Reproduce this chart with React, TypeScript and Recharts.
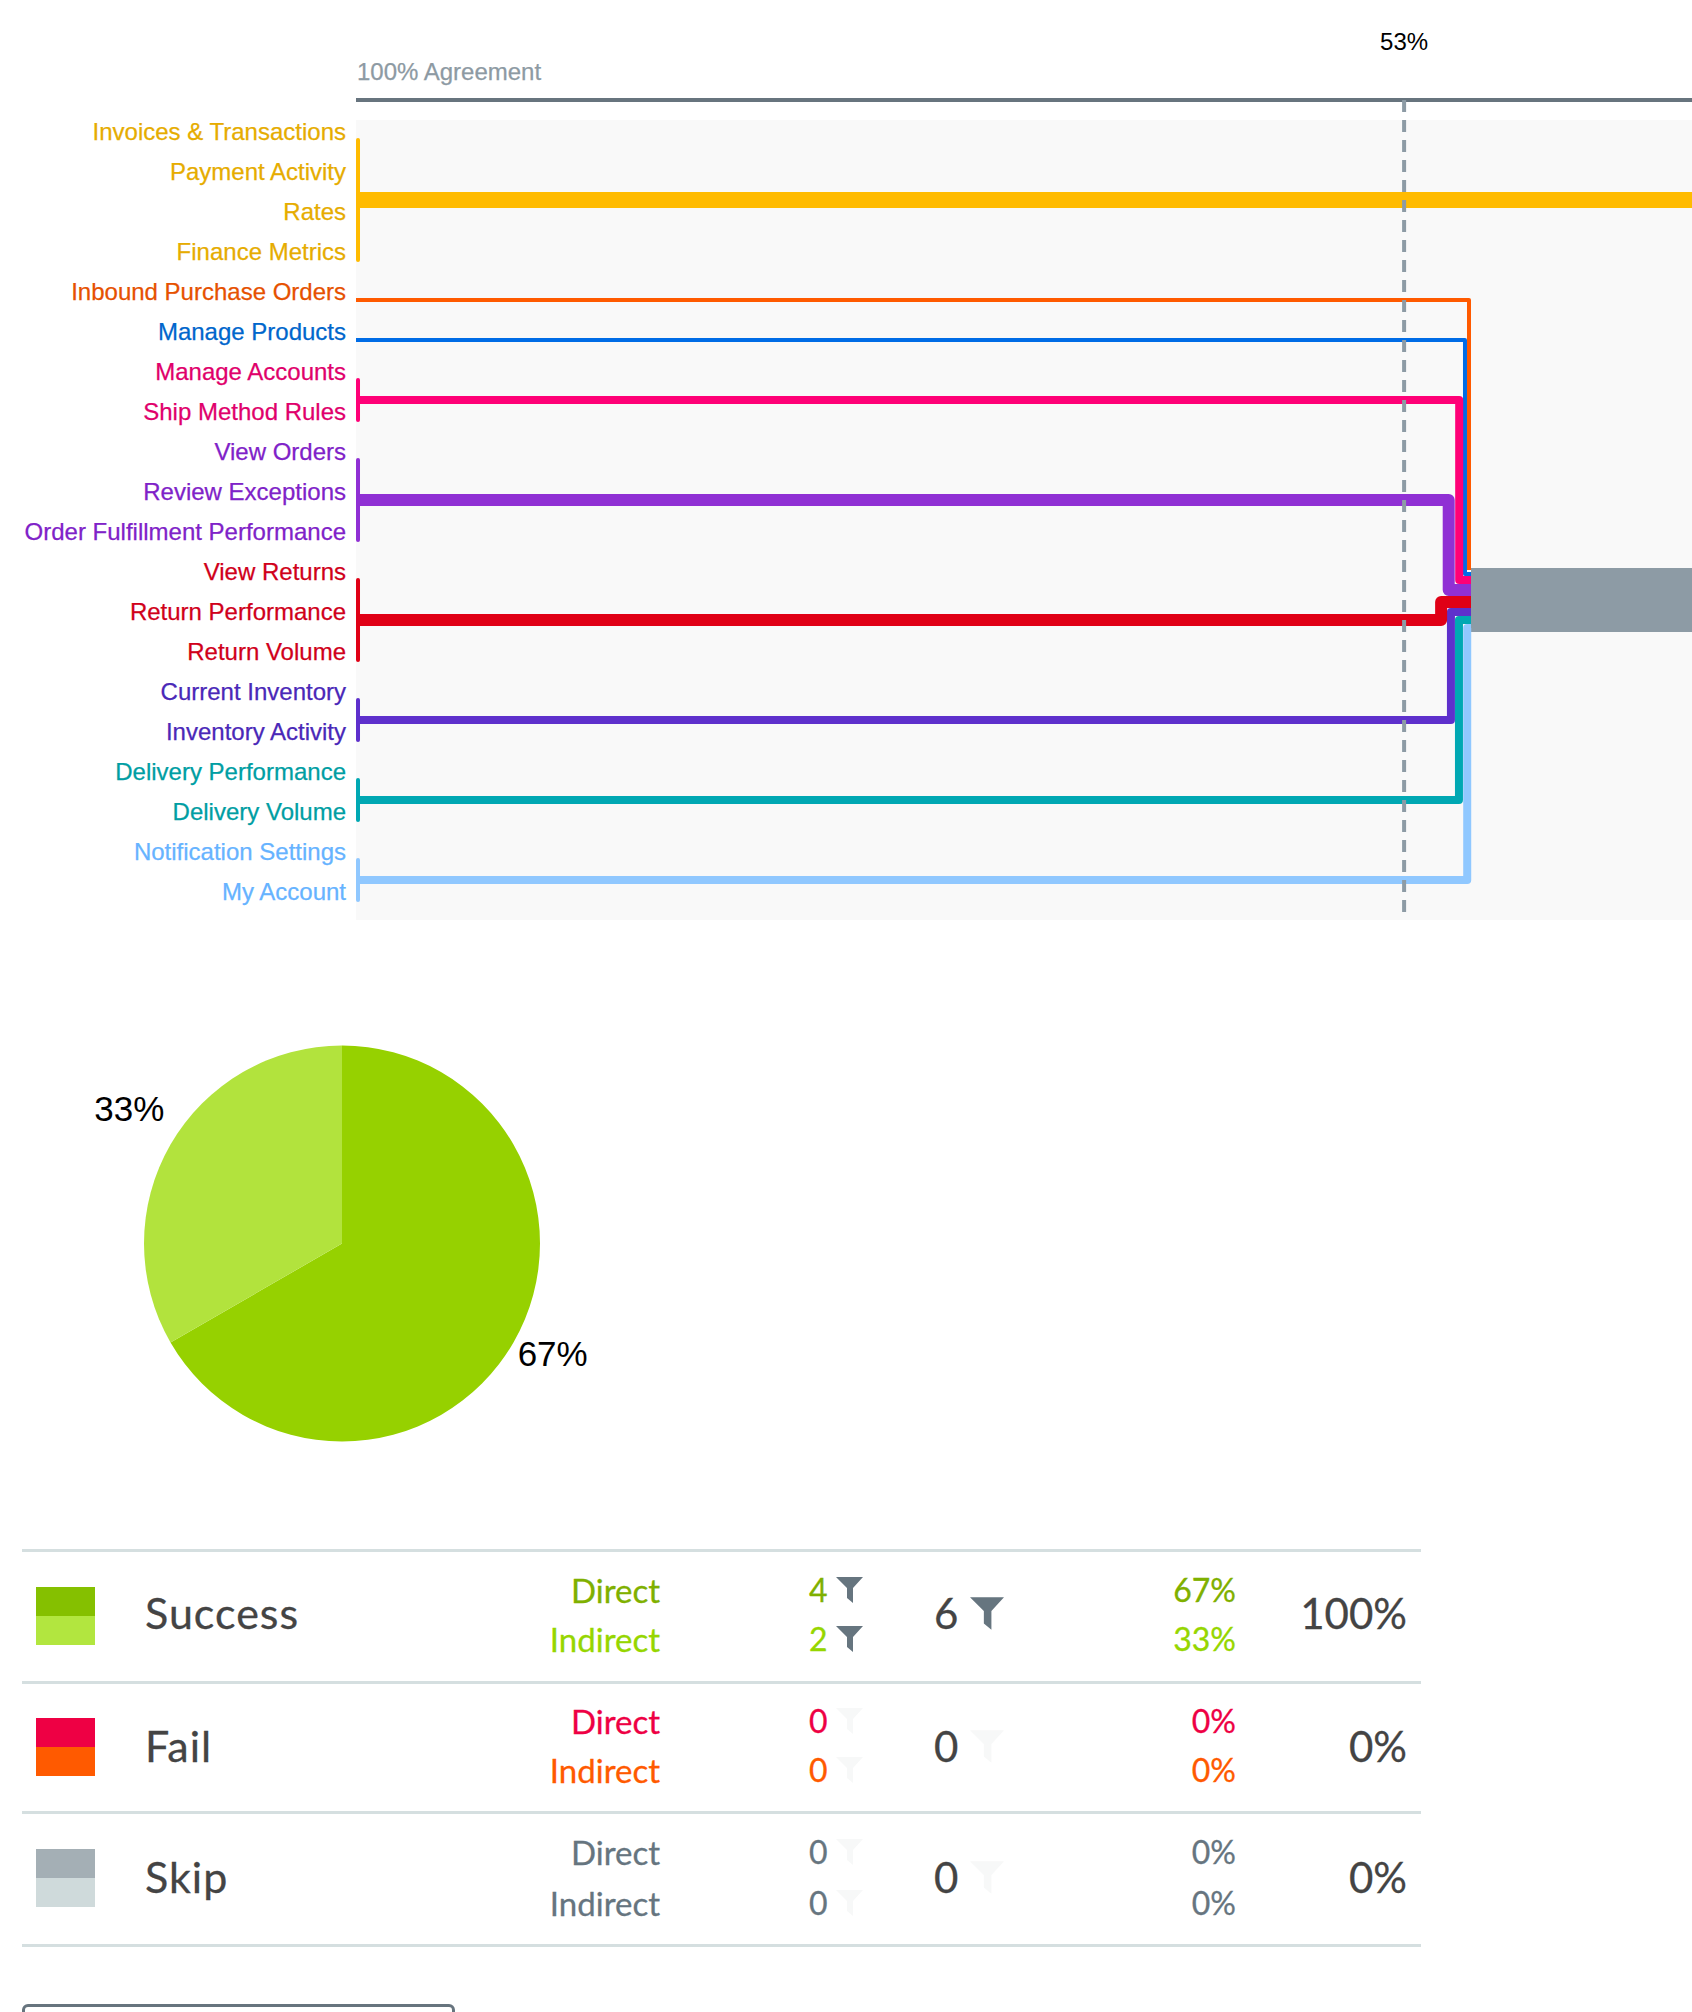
import { LineChart, Line, XAxis, YAxis, CartesianGrid, ReferenceLine, ReferenceArea, PieChart, Pie, Cell } from "recharts";

const rowLabels = [
  "Invoices & Transactions", "Payment Activity", "Rates", "Finance Metrics", "Inbound Purchase Orders",
  "Manage Products", "Manage Accounts", "Ship Method Rules", "View Orders", "Review Exceptions",
  "Order Fulfillment Performance", "View Returns", "Return Performance", "Return Volume", "Current Inventory",
  "Inventory Activity", "Delivery Performance", "Delivery Volume", "Notification Settings", "My Account",
];
const rowColors = [
  "#e6ac00", "#e6ac00", "#e6ac00", "#e6ac00", "#e65100", "#0066cc", "#e0006b", "#e0006b", "#7f22c8", "#7f22c8",
  "#7f22c8", "#d0001a", "#d0001a", "#d0001a", "#4a28b8", "#4a28b8", "#009ea3", "#009ea3", "#66b3ff", "#66b3ff",
];
const rowTicks = rowLabels.map((_, i) => i);

// x is % agreement, y is row position
const yellowPath = [{ x: 100, y: 1.5 }, { x: 40.09, y: 1.5 }];
const orangePath = [{ x: 100, y: 4 }, { x: 50.09, y: 4 }, { x: 50.09, y: 10.75 }];
const bluePath = [{ x: 100, y: 5 }, { x: 50.27, y: 5 }, { x: 50.27, y: 10.85 }, { x: 50, y: 10.85 }];
const pinkPath = [{ x: 100, y: 6.5 }, { x: 50.53, y: 6.5 }, { x: 50.53, y: 11 }, { x: 50, y: 11 }];
const purplePath = [{ x: 100, y: 9 }, { x: 51, y: 9 }, { x: 51, y: 11.25 }, { x: 50, y: 11.25 }];
const redPath = [{ x: 100, y: 12 }, { x: 51.34, y: 12 }, { x: 51.34, y: 11.55 }, { x: 50, y: 11.55 }];
const indigoPath = [{ x: 100, y: 14.5 }, { x: 50.9, y: 14.5 }, { x: 50.9, y: 11.8 }, { x: 50, y: 11.8 }];
const tealPath = [{ x: 100, y: 16.5 }, { x: 50.54, y: 16.5 }, { x: 50.54, y: 12 }, { x: 50, y: 12 }];
const lightPath = [{ x: 100, y: 18.5 }, { x: 50.17, y: 18.5 }, { x: 50.17, y: 12.2 }, { x: 50, y: 12.2 }];
const skipBand = [{ x: 50, y: 11.5 }, { x: 40.09, y: 11.5 }];

const flows = [
  { data: lightPath, color: "#90c8ff", width: 8, from: 18, to: 19 },
  { data: tealPath, color: "#00a8b3", width: 8, from: 16, to: 17 },
  { data: indigoPath, color: "#5e30cc", width: 8, from: 14, to: 15 },
  { data: orangePath, color: "#ff5a00", width: 4, from: 4, to: 4 },
  { data: bluePath, color: "#006ce6", width: 4, from: 5, to: 5 },
  { data: pinkPath, color: "#ff0077", width: 8, from: 6, to: 7 },
  { data: purplePath, color: "#9030d4", width: 12, from: 8, to: 10 },
  { data: redPath, color: "#e00016", width: 12, from: 11, to: 13 },
  { data: yellowPath, color: "#ffbb00", width: 16, from: 0, to: 3 },
];

const pieData = [
  { name: "Direct", value: 4 },
  { name: "Indirect", value: 2 },
];
const pieColors = ["#96d100", "#b2e33d"];
const pieLabelDy = [8, -33];

const tableRows = [
  {
    name: "Success", total: "6", share: "100%", active: true, y: 1613,
    direct: { count: "4", pct: "67%", color: "#7fb000", y: 1590 }, indirect: { count: "2", pct: "33%", color: "#96d600", y: 1639 },
    swatch: ["#85c000", "#b2e63f"],
  },
  {
    name: "Fail", total: "0", share: "0%", active: false, y: 1746,
    direct: { count: "0", pct: "0%", color: "#ee0044", y: 1721 }, indirect: { count: "0", pct: "0%", color: "#ff5a00", y: 1770 },
    swatch: ["#ee0044", "#ff5a00"],
  },
  {
    name: "Skip", total: "0", share: "0%", active: false, y: 1877,
    direct: { count: "0", pct: "0%", color: "#66757f", y: 1852 }, indirect: { count: "0", pct: "0%", color: "#66757f", y: 1903 },
    swatch: ["#a4afb5", "#cfdadb"],
  },
];
const dividerYs = [1550, 1682, 1812, 1945];
const swatchTops = [1587, 1718, 1849];

const TABLE_FONT = "Lato, sans-serif";
const CHART_FONT = "'Liberation Sans', Arial, sans-serif";

function RowTick({ y, payload }: any) {
  return (
    <text x={346} y={y} textAnchor="end" fontFamily={CHART_FONT} fontSize={24} fill={rowColors[payload.value]} stroke={rowColors[payload.value]} strokeWidth={0.25}>
      {rowLabels[payload.value]}
    </text>
  );
}

function PieLabel({ cx, cy, midAngle, outerRadius, index, percent }: any) {
  const rad = (midAngle * Math.PI) / 180;
  const r = outerRadius + 6;
  const x = cx + r * Math.cos(rad);
  const y = cy - r * Math.sin(rad) + pieLabelDy[index];
  return (
    <text x={x + (index === 1 ? -1 : -1)} y={y} dy={12} textAnchor={Math.cos(rad) > 0 ? "start" : "end"} fontFamily={CHART_FONT} fontSize={35} fill="#000">
      {`${Math.round(percent * 100)}%`}
    </text>
  );
}

function Funnel({ x, y, w, h, color }: { x: number; y: number; w: number; h: number; color: string }) {
  return (
    <svg style={{ position: "absolute", left: x, top: y }} width={w} height={h} viewBox="0 0 27 26">
      <path d="M0 0H27L17 11V26L11 21V11Z" fill={color} />
    </svg>
  );
}

function Cellt({ text, x, y, size, color, align, spacing = 0 }: { text: string; x: number; y: number; size: number; color: string; align: "left" | "right"; spacing?: number }) {
  const pos = align === "left" ? { left: x } : { right: 1692 - x };
  return (
    <div style={{ position: "absolute", ...pos, top: y - 30, height: 60, lineHeight: "60px", fontFamily: TABLE_FONT, fontSize: size, color, whiteSpace: "nowrap", letterSpacing: spacing, WebkitTextStroke: `0.3px ${color}` }}>
      {text}
    </div>
  );
}

export default function App() {
  return (
    <div style={{ position: "absolute", left: 0, top: 0, width: 1692, height: 2012, overflow: "hidden", background: "#fff" }}>
      <div style={{ position: "absolute", left: 357, top: 57, fontFamily: CHART_FONT, fontSize: 24, lineHeight: "30px", color: "#8d9aa3", WebkitTextStroke: "0.25px #8d9aa3" }}>100% Agreement</div>
      <div style={{ position: "absolute", left: 0, top: 0 }}>
        <LineChart width={1692} height={920} margin={{ top: 120, right: 0, bottom: 0, left: 0 }}>
          <CartesianGrid horizontal={false} vertical={false} fill="#f9f9f9" />
          <XAxis type="number" dataKey="x" domain={[40.09, 100]} reversed hide allowDuplicatedCategory={false} />
          <YAxis type="number" dataKey="y" domain={[-0.5, 19.5]} reversed width={356} ticks={rowTicks} interval={0} axisLine={false} tickLine={false} tick={<RowTick />} />
          <Line data={skipBand} dataKey="y" stroke="#8d9ba5" strokeWidth={64} dot={false} activeDot={false} isAnimationActive={false} />
          {flows.map((f) => (
            <Line key={f.color} data={f.data} dataKey="y" stroke={f.color} strokeWidth={f.width} strokeLinejoin="round" dot={false} activeDot={false} isAnimationActive={false} />
          ))}
          {flows.filter((f) => f.from !== f.to).map((f) => (
            <Line key={f.color + "-bracket"} data={[{ x: 99.91, y: f.from }, { x: 99.91, y: f.to }]} dataKey="y" stroke={f.color} strokeWidth={4} strokeLinecap="round" dot={false} activeDot={false} isAnimationActive={false} />
          ))}
          <ReferenceLine segment={[{ x: 100, y: -1 }, { x: 40.09, y: -1 }]} stroke="#67747e" strokeWidth={4} ifOverflow="visible" />
          <ReferenceLine segment={[{ x: 53, y: -1 }, { x: 53, y: 19.3 }]} stroke="#8d9ba5" strokeWidth={4} strokeDasharray="12 8" ifOverflow="visible" />
          <ReferenceArea x1={53} x2={53} y1={-2.47} y2={-2.47} ifOverflow="visible" fill="none" stroke="none" label={{ value: "53%", position: "center", fill: "#000", fontSize: 24, fontFamily: CHART_FONT }} />
        </LineChart>
      </div>

      <div style={{ position: "absolute", left: 0, top: 1000 }}>
        <PieChart width={700} height={500} margin={{ top: 0, right: 0, bottom: 0, left: 0 }}>
          <Pie data={pieData} dataKey="value" cx={342} cy={243.5} outerRadius={198} startAngle={90} endAngle={-270} stroke="none" label={<PieLabel />} labelLine={false} isAnimationActive={false}>
            {pieData.map((d, i) => (
              <Cell key={d.name} fill={pieColors[i]} />
            ))}
          </Pie>
        </PieChart>
      </div>

      {dividerYs.map((y) => (
        <div key={y} style={{ position: "absolute", left: 22, top: y - 1.5, width: 1399, height: 3, background: "#d5dfe0" }} />
      ))}
      {tableRows.map((row, i) => (
        <div key={row.name}>
          <div style={{ position: "absolute", left: 36, top: swatchTops[i], width: 59, height: 29, background: row.swatch[0] }} />
          <div style={{ position: "absolute", left: 36, top: swatchTops[i] + 29, width: 59, height: 29, background: row.swatch[1] }} />
          <Cellt text={row.name} x={145} y={row.y} size={43} spacing={1} color="#444" align="left" />
          {[{ label: "Direct", ...row.direct }, { label: "Indirect", ...row.indirect }].map((c) => (
            <div key={c.label}>
              <Cellt text={c.label} x={660} y={c.y} size={33} color={c.color} align="right" />
              <Cellt text={c.count} x={809} y={c.y} size={32} color={c.color} align="left" />
              <Funnel x={836} y={c.y - 13} w={27} h={26} color={row.active ? "#66757f" : "#f7f8f8"} />
              <Cellt text={c.pct} x={1236} y={c.y} size={32} color={c.color} align="right" />
            </div>
          ))}
          <Cellt text={row.total} x={934} y={row.y} size={42} color="#444" align="left" />
          <Funnel x={970} y={row.y - 16} w={34} h={33} color={row.active ? "#66757f" : "#f7f8f8"} />
          <Cellt text={row.share} x={1407} y={row.y} size={42} color="#444" align="right" />
        </div>
      ))}
      <div style={{ position: "absolute", left: 22, top: 2004, width: 433, height: 60, border: "3px solid #67747e", borderRadius: 6, boxSizing: "border-box" }} />
    </div>
  );
}
